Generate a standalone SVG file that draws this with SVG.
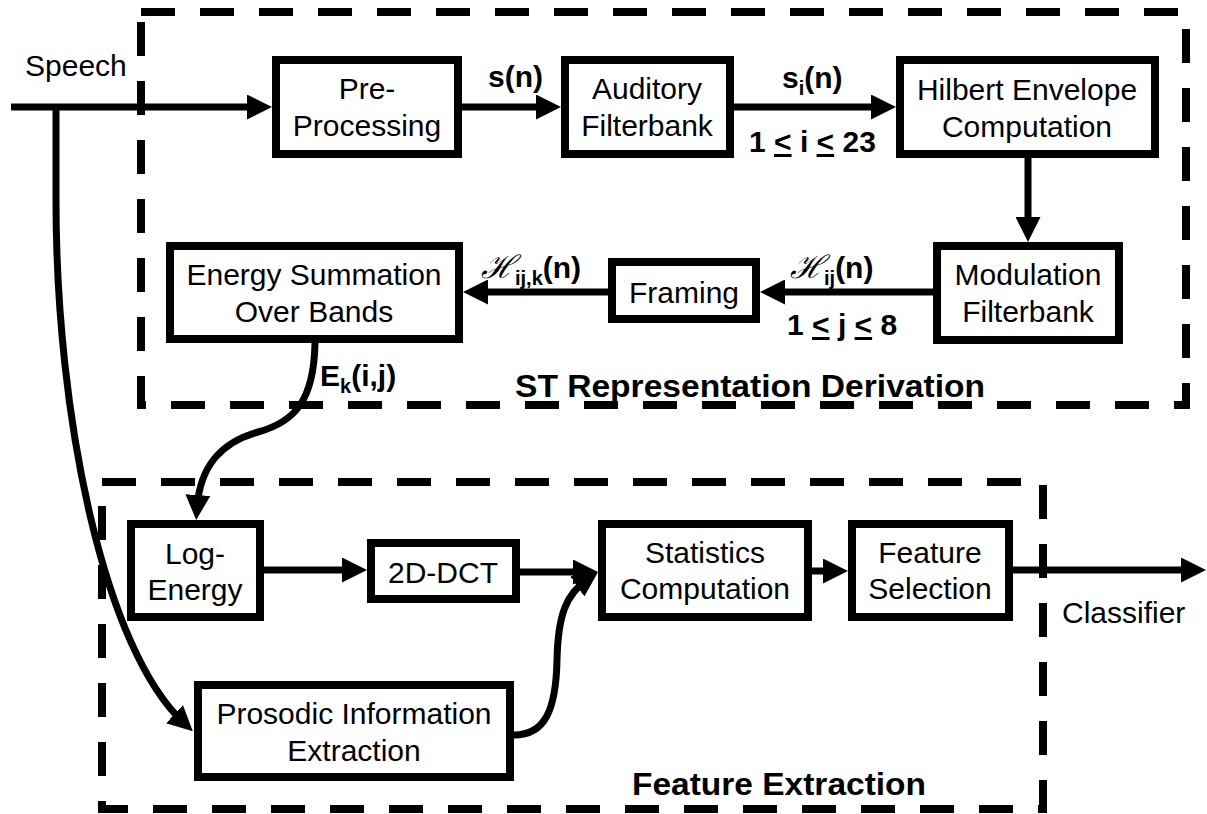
<svg xmlns="http://www.w3.org/2000/svg" width="1207" height="814" viewBox="0 0 1207 814">
<defs>
<marker id="ah" markerUnits="userSpaceOnUse" markerWidth="25" markerHeight="25" viewBox="0 0 25 25" refX="13" refY="12.5" orient="auto">
<path d="M0,0 L25,12.5 L0,25 Z" fill="#000"/>
</marker>
</defs>
<style>
.box{fill:#fff;stroke:#000;stroke-width:8}
.dash{fill:none;stroke:#000;stroke-width:8;stroke-dasharray:34 25}
.t{font-family:"Liberation Sans",Arial,sans-serif;font-size:30px;text-anchor:middle;fill:#000}
.l{font-family:"Liberation Sans",Arial,sans-serif;font-size:30px;fill:#000}
.b{font-family:"Liberation Sans",Arial,sans-serif;font-weight:bold;font-size:30px;fill:#000}
.tb{font-family:"Liberation Sans",Arial,sans-serif;font-weight:bold;font-size:31px;fill:#000}
.c{fill:none;stroke:#000;stroke-width:7}
.sc{font-family:"DejaVu Serif",serif;font-style:italic;font-weight:normal;font-size:32px}
.sub{font-size:20px}
</style>
<rect width="1207" height="814" fill="#fff"/>
<g id="st-group">
<rect class="dash" x="141" y="12" width="1045" height="393"/>
<text class="tb" x="515" y="397" textLength="470" lengthAdjust="spacingAndGlyphs">ST Representation Derivation</text>
</g>
<g id="fe-group">
<rect class="dash" x="102" y="482" width="941" height="327"/>
<text class="tb" x="632" y="795" textLength="294" lengthAdjust="spacingAndGlyphs">Feature Extraction</text>
</g>
<g id="connectors">
<path class="c" d="M11,107 L260,107" marker-end="url(#ah)"/>
<path class="c" d="M56,107 L56,200 C56,420 105,650 184,723" marker-end="url(#ah)"/>
<path class="c" d="M462,107 L549,107" marker-end="url(#ah)"/>
<path class="c" d="M734,107 L884,107" marker-end="url(#ah)"/>
<path class="c" d="M1028,158 L1028,230" marker-end="url(#ah)"/>
<path class="c" d="M933,292 L772,292" marker-end="url(#ah)"/>
<path class="c" d="M608,292 L475,292" marker-end="url(#ah)"/>
<path class="c" d="M315,343 C314,400 295,422 258,432 C222,442 200,465 197,508" marker-end="url(#ah)"/>
<path class="c" d="M264,570 L355,570" marker-end="url(#ah)"/>
<path class="c" d="M520,572 L586,572" marker-end="url(#ah)"/>
<path class="c" d="M514,735 C545,735 556,710 557,660 C558,615 566,594 588,579" marker-end="url(#ah)"/>
<path class="c" d="M812,571 L836,571" marker-end="url(#ah)"/>
<path class="c" d="M1013,570 L1194,570" marker-end="url(#ah)"/>
</g>
<g id="labels">
<text class="l" x="25" y="76">Speech</text>
<text class="b" x="488" y="87">s(n)</text>
<text class="b" x="782" y="88">s<tspan class="sub" dy="7">i</tspan><tspan dy="-7">(n)</tspan></text>
<text class="b" x="749" y="152">1 <tspan text-decoration="underline">&lt;</tspan> i <tspan text-decoration="underline">&lt;</tspan> 23</text>
<text class="b" x="790" y="278"><tspan class="sc">ℋ</tspan><tspan class="sub" dy="7">ij</tspan><tspan dy="-7">(n)</tspan></text>
<text class="b" x="787" y="335">1 <tspan text-decoration="underline">&lt;</tspan> j <tspan text-decoration="underline">&lt;</tspan> 8</text>
<text class="b" x="481" y="278"><tspan class="sc">ℋ</tspan><tspan class="sub" dy="7">ij,k</tspan><tspan dy="-7">(n)</tspan></text>
<text class="b" x="320" y="386">E<tspan class="sub" dy="7">k</tspan><tspan dy="-7">(i,j)</tspan></text>
<text class="l" x="1062" y="623">Classifier</text>
</g>
<g id="n-pre"><rect class="box" x="276" y="60" width="182" height="94"/><text class="t" x="367" y="99">Pre-</text><text class="t" x="367" y="136">Processing</text></g>
<g id="n-aud"><rect class="box" x="565" y="60" width="165" height="94"/><text class="t" x="647" y="99">Auditory</text><text class="t" x="647" y="136">Filterbank</text></g>
<g id="n-hil"><rect class="box" x="900" y="60" width="255" height="94"/><text class="t" x="1027" y="100">Hilbert Envelope</text><text class="t" x="1027" y="137">Computation</text></g>
<g id="n-mod"><rect class="box" x="937" y="246" width="182" height="94"/><text class="t" x="1028" y="285">Modulation</text><text class="t" x="1028" y="322">Filterbank</text></g>
<g id="n-frm"><rect class="box" x="612" y="262" width="144" height="57"/><text class="t" x="684" y="303">Framing</text></g>
<g id="n-ene"><rect class="box" x="170" y="246" width="289" height="93"/><text class="t" x="314" y="285">Energy Summation</text><text class="t" x="314" y="322">Over Bands</text></g>
<g id="n-log"><rect class="box" x="131" y="524" width="129" height="93"/><text class="t" x="195" y="564">Log-</text><text class="t" x="195" y="600">Energy</text></g>
<g id="n-dct"><rect class="box" x="371" y="543" width="145" height="56"/><text class="t" x="443" y="583">2D-DCT</text></g>
<g id="n-sta"><rect class="box" x="602" y="524" width="206" height="93"/><text class="t" x="705" y="563">Statistics</text><text class="t" x="705" y="599">Computation</text></g>
<g id="n-fsel"><rect class="box" x="852" y="524" width="157" height="93"/><text class="t" x="930" y="563">Feature</text><text class="t" x="930" y="599">Selection</text></g>
<g id="n-pro"><rect class="box" x="198" y="685" width="312" height="92"/><text class="t" x="354" y="724">Prosodic Information</text><text class="t" x="354" y="761">Extraction</text></g>
</svg>
